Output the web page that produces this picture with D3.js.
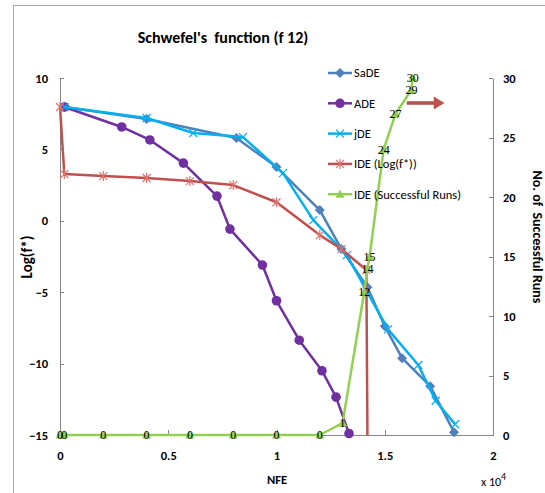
<!DOCTYPE html>
<html lang="en">
<head>
    <meta charset="UTF-8">
    <title>Schwefel's function (f 12)</title>
    <script src="https://d3js.org/d3.v7.min.js"></script>
    <style>
        body {
            margin: 0;
            padding: 0;
            background: #fff;
        }
        svg text {
            font-family: Carlito, "Liberation Sans Narrow", "Open Sans", sans-serif;
        }
        .axis path, .axis line {
            stroke: #868686;
            shape-rendering: crispEdges;
        }
        .axis text {
            font-size: 12.5px;
            font-weight: bold;
            fill: #000;
        }
        .pt-label {
            font-family: "Liberation Serif", serif !important;
            font-size: 12px;
            fill: #000;
        }
    </style>
</head>
<body>
<div id="chart"></div>
<script>
    // NFE values (x) and results
    const sadeNfe = [200, 4000, 8150, 10000, 12000, 13000, 14200, 15000, 15800, 17100, 18200];
    const sadeLog = [7.97, 7.13, 5.8, 3.76, 0.75, -1.98, -4.65, -7.38, -9.62, -11.58, -14.8];

    const adeNfe = [200, 2850, 4150, 5700, 7250, 7850, 9350, 10000, 11050, 12100, 12750, 13350];
    const adeLog = [7.97, 6.57, 5.66, 4.04, 1.73, -0.58, -3.1, -5.6, -8.36, -10.5, -12.35, -14.9];

    const jdeNfe = [200, 4000, 6150, 8450, 10300, 11700, 13250, 15150, 16550, 17350, 18250];
    const jdeLog = [7.97, 7.2, 6.15, 5.86, 3.34, 0.05, -2.4, -7.6, -10.1, -12.6, -14.25];

    const ideNfe = [0, 200, 2000, 4000, 6000, 8000, 10000, 12000, 13000, 14150, 14200];
    const ideLog = [7.97, 3.27, 3.13, 3.0, 2.78, 2.5, 1.3, -1.0, -1.98, -3.45, -15];

    const runsNfe = [0, 200, 2000, 4000, 6000, 8000, 10000, 12000, 13050, 14050, 14200, 14300, 14950, 15500, 16230, 16290];
    const runs = [0, 0, 0, 0, 0, 0, 0, 0, 1, 12, 14, 15, 24, 27, 29, 30];

    const xTicks = [0, 5000, 10000, 15000, 20000];
    const leftTicks = [-15, -10, -5, 0, 5, 10];
    const rightTicks = [0, 5, 10, 15, 20, 25, 30];

    const seriesNames = ["SaDE", "ADE", "jDE", "IDE (Log(f*))", "IDE (Successful Runs)"];

    const width = 545, height = 493;
    const plot = {left: 60, right: 493, top: 78, bottom: 435};

    const svg = d3.select("#chart").append("svg")
        .attr("width", width)
        .attr("height", height);

    // outer chart frame (runs past the window on right / bottom)
    svg.append("rect")
        .attr("x", 13.5).attr("y", 5.5)
        .attr("width", 700).attr("height", 700)
        .attr("fill", "none")
        .attr("stroke", "#a6a6a6");

    const x = d3.scaleLinear().domain([0, 20000]).range([plot.left, plot.right]);
    const yL = d3.scaleLinear().domain([-15, 10]).range([plot.bottom, plot.top]);
    const yR = d3.scaleLinear().domain([0, 30]).range([plot.bottom, plot.top]);

    // axes
    svg.append("g").attr("class", "axis")
        .attr("transform", `translate(${plot.left},0)`)
        .call(d3.axisLeft(yL).tickValues(leftTicks).tickSize(-4).tickSizeOuter(0).tickPadding(12));

    svg.append("g").attr("class", "axis")
        .attr("transform", `translate(${plot.right},0)`)
        .call(d3.axisRight(yR).tickValues(rightTicks).tickSize(-4).tickSizeOuter(0).tickPadding(10));

    svg.append("g").attr("class", "axis")
        .attr("transform", `translate(0,${plot.bottom})`)
        .call(d3.axisBottom(x).tickValues(xTicks).tickSize(-5).tickSizeOuter(0).tickPadding(16)
            .tickFormat(d => d3.format("~g")(d / 1e4)));

    // titles
    svg.append("text")
        .attr("x", 223).attr("y", 43)
        .attr("text-anchor", "middle")
        .style("font-size", "16px").style("font-weight", "bold")
        .style("white-space", "pre")
        .text("Schwefel's  function (f 12)");

    svg.append("text")
        .attr("transform", "translate(32,257) rotate(-90)")
        .attr("text-anchor", "middle")
        .style("font-size", "15px").style("font-weight", "bold")
        .text("Log(f*)");

    svg.append("text")
        .attr("transform", "translate(533,237) rotate(90)")
        .attr("text-anchor", "middle")
        .style("font-size", "14px").style("font-weight", "bold")
        .style("white-space", "pre")
        .text("No. of  Successful Runs");

    svg.append("text")
        .attr("x", 277).attr("y", 484)
        .attr("text-anchor", "middle")
        .style("font-size", "12.5px").style("font-weight", "bold")
        .text("NFE");

    const sci = svg.append("text")
        .attr("x", 481).attr("y", 486)
        .style("font-size", "12px");
    sci.append("tspan").text("x 10");
    sci.append("tspan").attr("dy", -6).style("font-size", "10px").text("4");

    // marker helpers
    const markers = {
        diamond: (g, c) => g.append("path").attr("d", "M0,-5L5,0L0,5L-5,0Z").attr("fill", c),
        circle: (g, c) => g.append("circle").attr("r", 4.8).attr("fill", c),
        cross: (g, c) => g.append("path").attr("d", "M-4,-4L4,4M-4,4L4,-4").attr("stroke", c).attr("stroke-width", 1.2),
        star: (g, c) => g.append("path").attr("d", "M-4,-4L4,4M-4,4L4,-4M0,-5L0,5").attr("stroke", c).attr("stroke-width", 1.2),
        triangle: (g, c) => g.append("path").attr("d", "M0,-4.5L4.5,3.5L-4.5,3.5Z").attr("fill", c)
    };

    const series = [
        {name: seriesNames[0], xs: sadeNfe, ys: sadeLog, y: yL, color: "#4F81BD", mc: "#4F81BD", marker: "diamond"},
        {name: seriesNames[1], xs: adeNfe, ys: adeLog, y: yL, color: "#7030A0", mc: "#7030A0", marker: "circle"},
        {name: seriesNames[2], xs: jdeNfe, ys: jdeLog, y: yL, color: "#00B0F0", mc: "#00B0F0", marker: "cross"},
        {name: seriesNames[3], xs: ideNfe, ys: ideLog, y: yL, color: "#C0504D", mc: "#E07370", marker: "star"},
        {name: seriesNames[4], xs: runsNfe, ys: runs, y: yR, color: "#92D050", mc: "#92D050", marker: "triangle"}
    ];

    series.forEach(s => {
        const pts = s.xs.map((v, i) => [x(v), s.y(s.ys[i])]);
        svg.append("path")
            .attr("d", d3.line()(pts))
            .attr("fill", "none")
            .attr("stroke", s.color)
            .attr("stroke-width", 2.5)
            .attr("stroke-linejoin", "round");
        // last point of the IDE log curve is the floor, no marker there
        const mpts = s.name === seriesNames[3] ? pts.slice(0, -1) : pts;
        mpts.forEach(p => {
            const g = svg.append("g").attr("transform", `translate(${p[0]},${p[1]})`);
            markers[s.marker](g, s.mc);
        });
    });

    // data labels on successful runs
    svg.append("g").selectAll("text")
        .data(runs)
        .join("text")
        .attr("class", "pt-label")
        .attr("x", (d, i) => x(runsNfe[i]))
        .attr("y", d => yR(d))
        .attr("dy", "0.35em")
        .attr("text-anchor", "middle")
        .text(d => d);

    // legend
    const legend = svg.append("g");
    series.forEach((s, i) => {
        const ly = 73 + i * 30.3;
        const g = legend.append("g").attr("transform", `translate(328,${ly})`);
        g.append("line").attr("x1", 0).attr("x2", 24).attr("stroke", s.color).attr("stroke-width", 2.5);
        markers[s.marker](g.append("g").attr("transform", "translate(12,0)"), s.mc);
        g.append("text").attr("x", 26).attr("dy", "0.35em")
            .style("font-size", "12.5px")
            .text(s.name);
    });

    // red arrow pointing at the right axis
    svg.append("path")
        .attr("d", "M407,101.5L434,101.5L434,97L444,103L434,109L434,104.5L407,104.5Z")
        .attr("fill", "#C0504D")
        .attr("stroke", "#a94441")
        .attr("stroke-width", 0.5);
</script>
</body>
</html>
